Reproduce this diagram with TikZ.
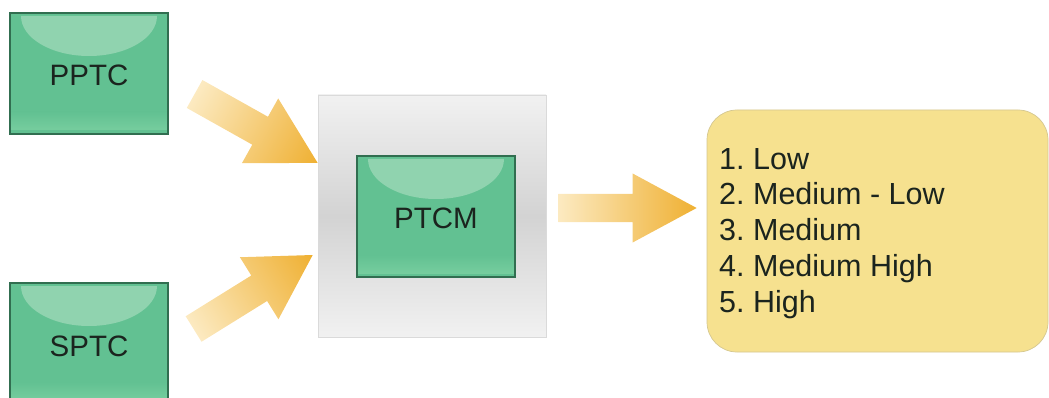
\documentclass[tikz,border=0pt]{standalone}
\usepackage{fontspec}
\setmainfont{Liberation Sans}
\usetikzlibrary{calc}
\frenchspacing

\definecolor{gfill}{HTML}{62C192}
\definecolor{ghi}{HTML}{90D3AF}
\definecolor{gband}{HTML}{76CD9E}
\definecolor{gborder}{HTML}{316E50}
\definecolor{panelmid}{HTML}{D3D3D3}
\definecolor{panelend}{HTML}{F1F1F1}
\definecolor{panelline}{HTML}{DADADA}
\definecolor{notefill}{HTML}{F6E18F}
\definecolor{noteline}{HTML}{D4C78F}
\definecolor{arrtail}{HTML}{FCEAC1}
\definecolor{arrmid}{HTML}{F5C868}
\definecolor{arrhead}{HTML}{EFB032}
\definecolor{ink}{HTML}{1B241E}

\tikzset{
  greenbox/.style={
    draw=gborder, line width=1.2pt, fill=gfill,
    minimum width=158pt, minimum height=121pt, inner sep=0pt,
    font=\fontsize{29.5}{34}\selectfont, text=ink,
    text height=25pt, text depth=0pt,
    path picture={
      % glossy half-ellipse highlight under the top edge
      \fill[ghi] ([xshift=11pt,yshift=-3pt]path picture bounding box.north west)
        arc[start angle=180, end angle=360, x radius=68pt, y radius=40pt] -- cycle;
      % lighter strip near the bottom edge
      \shade[top color=gfill, bottom color=gband]
        ([yshift=22pt]path picture bounding box.south west) rectangle
        ([yshift=4pt]path picture bounding box.south east);
    }},
  panel/.style={
    draw=panelline, line width=0.6pt,
    top color=panelend, bottom color=panelend, middle color=panelmid,
    minimum width=228pt, minimum height=242pt, inner sep=0pt},
  note/.style={
    draw=noteline, line width=0.7pt, fill=notefill, rounded corners=30pt,
    minimum width=341pt, minimum height=242pt, inner sep=0pt},
  listtext/.style={
    font=\fontsize{30.5}{35.8}\selectfont, text=ink,
    align=left, inner sep=0pt, anchor=north west},
  arrowshade/.style={left color=arrtail, middle color=arrmid, right color=arrhead}
}

% Broad block arrow from coordinate #1 to coordinate #2;
% #3 shaft width, #4 head width, #5 head length (all in pt)
\newcommand\blockarrow[5]{%
  \pgfpointdiff{\pgfpointanchor{#1}{center}}{\pgfpointanchor{#2}{center}}%
  \pgfgetlastxy{\bax}{\bay}%
  \pgfmathsetmacro\balen{veclen(\bax,\bay)}%
  \pgfmathsetmacro\baang{atan2(\bay,\bax)}%
  \pgfmathsetmacro\babase{\balen-#5}%
  \pgfmathsetmacro\bashaft{#3/2}%
  \pgfmathsetmacro\bahead{#4/2}%
  \begin{scope}[transform canvas={shift={(#1)},rotate=\baang}]
    \shade[arrowshade]
      (0pt,-\bashaft pt) -- (\babase pt,-\bashaft pt) -- (\babase pt,-\bahead pt)
      -- (\balen pt,0pt) -- (\babase pt,\bahead pt) -- (\babase pt,\bashaft pt)
      -- (0pt,\bashaft pt) -- cycle;
  \end{scope}}

\begin{document}
\begin{tikzpicture}[x=1pt,y=-1pt]
  \useasboundingbox (0,0) rectangle (1049,398);
  \clip (0,0) rectangle (1049,398);

  % inputs
  \node[greenbox] (pptc) at (89,73.5) {PPTC};
  \node[greenbox] (sptc) at (89,343.5) {SPTC};

  % central module on its grey panel
  \node[panel] (bg) at (432,216) {};
  \node[greenbox] (ptcm) at (436,216.5) {PTCM};

  % result levels
  \node[note] (res) at (877.5,231) {};
  \node[listtext] (levels) at (719,148)
    {1. Low\\2. Medium - Low\\3. Medium\\4. Medium High\\5. High};

  % arrow end points
  \coordinate (a1t) at ($(pptc.east)+(26,20.5)$);
  \coordinate (a1h) at ($(bg.west)+(0,-53)$);
  \coordinate (a2t) at ($(sptc.east)+(25,-14.5)$);
  \coordinate (a2h) at ($(bg.west)+(-5,39)$);
  \coordinate (a3t) at ($(bg.east)+(12,-8)$);
  \coordinate (a3h) at ($(res.west)+(-10,-23)$);

  \blockarrow{a1t}{a1h}{32}{74}{66}
  \blockarrow{a2t}{a2h}{30}{73}{63}
  \blockarrow{a3t}{a3h}{28}{69}{64}
\end{tikzpicture}
\end{document}
